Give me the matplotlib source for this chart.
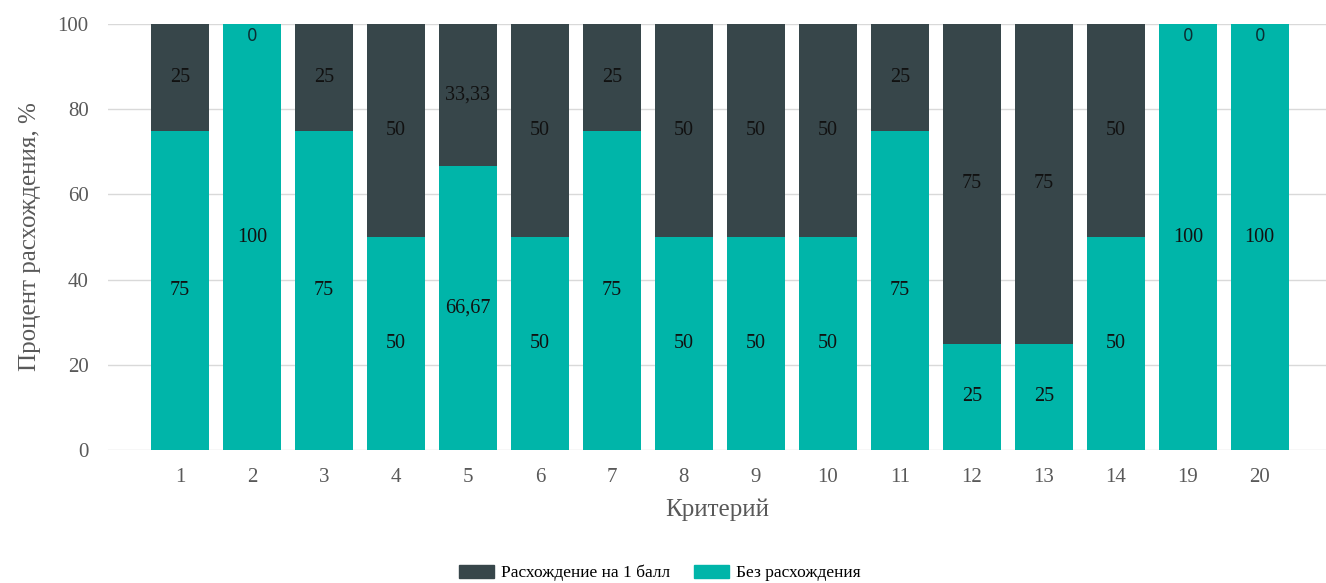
import matplotlib
matplotlib.use("Agg")
import matplotlib.pyplot as plt
from matplotlib.patches import Patch

categories = ['1', '2', '3', '4', '5', '6', '7', '8', '9', '10', '11', '12', '13', '14', '19', '20']
no_diff = [75, 100, 75, 50, 66.67, 50, 75, 50, 50, 50, 75, 25, 25, 50, 100, 100]
diff_one = [25, 0, 25, 50, 33.33, 50, 25, 50, 50, 50, 25, 75, 75, 50, 0, 0]
series_names = ['Расхождение на 1 балл', 'Без расхождения']
y_ticks = [0, 20, 40, 60, 80, 100]

c_dark = '#37464A'
c_teal = '#00B5A9'
serif = ['Liberation Serif', 'DejaVu Serif']

def fmt(v):
    s = ('%.2f' % v).rstrip('0').rstrip('.')
    return s.replace('.', ',')

fig = plt.figure(figsize=(13.26, 5.83), dpi=100)
ax = fig.add_axes([108/1326, (583-450)/583, 1 - 108/1326, (450-24)/583])

x = list(range(len(categories)))
ax.bar(x, no_diff, width=0.8, color=c_teal, zorder=2)
ax.bar(x, diff_one, width=0.8, bottom=no_diff, color=c_dark, zorder=2)

for i in x:
    a, b = no_diff[i], diff_one[i]
    ax.text(i, a / 2, fmt(a), ha='center', va='center', fontsize=14.5,
            family=serif, color='#111111', zorder=3)
    if b > 0:
        ax.text(i, a + b / 2, fmt(b), ha='center', va='center', fontsize=14.5,
                family=serif, color='#111111', zorder=3)
    else:
        ax.text(i, a - 0.8, fmt(b), ha='center', va='top', fontsize=12,
                family=['DejaVu Sans'], color='#0b2e33', zorder=3)

ax.set_xlim(-1, 15.92)
ax.set_ylim(0, 100)
ax.set_yticks(y_ticks)
ax.set_xticks(x)
ax.set_xticklabels(categories)
ax.grid(axis='y', color='#d9d9d9', linewidth=1, zorder=0)
for s in ['top', 'right', 'left', 'bottom']:
    ax.spines[s].set_visible(False)
ax.tick_params(axis='both', length=0, labelsize=15, labelcolor='#595959')
ax.tick_params(axis='x', pad=13)
ax.tick_params(axis='y', pad=14)
for lab in ax.get_xticklabels() + ax.get_yticklabels():
    lab.set_family(serif)

ax.set_xlabel('Критерий', fontsize=18, family=serif, color='#595959', labelpad=8)
ax.set_ylabel('Процент расхождения, %', fontsize=18, family=serif, color='#595959', labelpad=12)

handles = [Patch(color=c_dark), Patch(color=c_teal)]
fig.legend(handles, series_names, loc='center', bbox_to_anchor=(660/1326, 1 - 573/583),
           ncol=2, frameon=False, prop={'family': serif, 'size': 12.5},
           handlelength=2.0, handleheight=0.85, columnspacing=1.4, handletextpad=0.4)

fig.savefig('out.png', dpi=100)
